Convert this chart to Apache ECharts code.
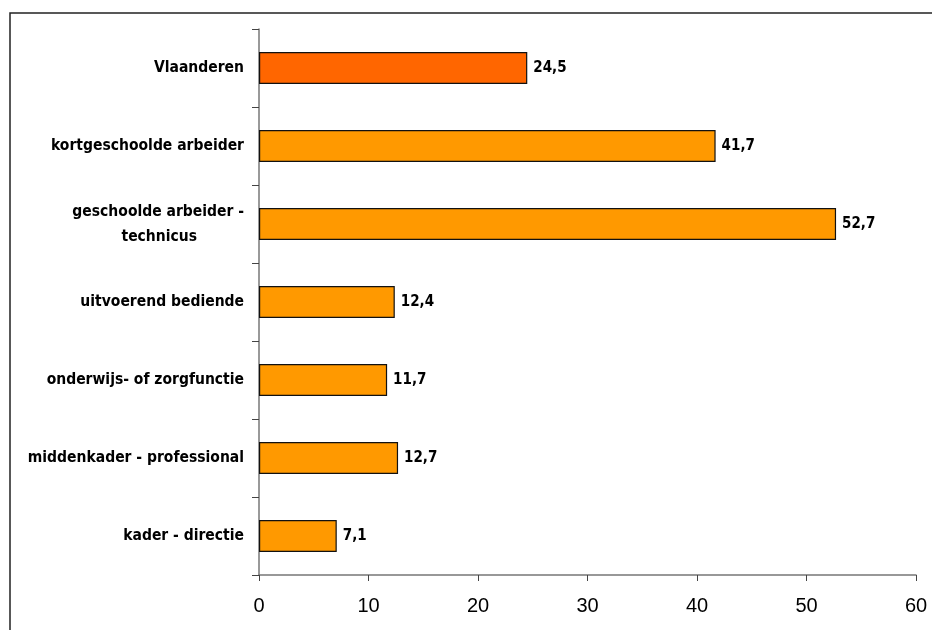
<!DOCTYPE html>
<html>
<head>
<meta charset="utf-8">
<script src="https://cdn.jsdelivr.net/npm/echarts@6/dist/echarts.min.js"></script>
<style>
  html, body { margin: 0; padding: 0; background: #fff; }
  #chart { width: 932px; height: 630px; }
</style>
</head>
<body>
<div id="chart"></div>
<script>
const categories = [
  'Vlaanderen',
  'kortgeschoolde arbeider',
  'geschoolde arbeider -\ntechnicus',
  'uitvoerend bediende',
  'onderwijs- of zorgfunctie',
  'middenkader - professional',
  'kader - directie'
];
const values = [24.5, 41.7, 52.7, 12.4, 11.7, 12.7, 7.1];
const xMin = 0;
const xMax = 60;
const xStep = 10;

const narrow = "'Liberation Sans Narrow', 'Arial Narrow', 'DejaVu Sans Condensed', sans-serif";
const regular = "'Liberation Sans', Arial, sans-serif";

const chart = echarts.init(document.getElementById('chart'));
chart.setOption({
  animation: false,
  backgroundColor: '#fff',
  graphic: [{
    type: 'rect',
    shape: { x: 10, y: 13, width: 1000, height: 1000 },
    style: { fill: 'none', stroke: '#222', lineWidth: 1.5 },
    silent: true
  }],
  grid: { left: 259, right: 16, top: 29, bottom: 55, containLabel: false, outerBoundsMode: 'none' },
  xAxis: {
    type: 'value',
    min: xMin, max: xMax, interval: xStep,
    splitLine: { show: false },
    axisLine: { show: true, lineStyle: { color: '#777', width: 1.5 } },
    axisTick: { show: true, length: 6, lineStyle: { color: '#444' } },
    axisLabel: { color: '#000', fontFamily: regular, fontSize: 20, margin: 21 }
  },
  yAxis: {
    type: 'category',
    data: categories,
    inverse: true,
    axisLine: { show: true, lineStyle: { color: '#777', width: 1.5 } },
    axisTick: { show: true, length: 7, lineStyle: { color: '#444' } },
    axisLabel: {
      color: '#000', fontFamily: narrow, fontWeight: 'bold', fontSize: 15.5, margin: 15,
      lineHeight: 25,
      formatter: function (v) {
        const parts = v.split('\n');
        if (parts.length > 1) {
          return parts[0] + '\n{t|' + parts[1] + '}';
        }
        return v;
      },
      rich: {
        t: { fontFamily: narrow, fontWeight: 'bold', fontSize: 15.5, color: '#000', lineHeight: 25, padding: [0, 47, 0, 0] }
      }
    }
  },
  series: [{
    type: 'bar',
    data: values,
    barWidth: 32,
    itemStyle: {
      color: function (p) { return p.dataIndex === 0 ? '#FF6600' : '#FF9900'; },
      borderColor: '#111',
      borderWidth: 1.2
    },
    label: {
      show: true,
      position: 'right',
      distance: 6,
      color: '#000',
      fontFamily: narrow,
      fontWeight: 'bold',
      fontSize: 15,
      formatter: function (p) { return p.value.toFixed(1).replace('.', ','); }
    }
  }]
});
</script>
</body>
</html>
